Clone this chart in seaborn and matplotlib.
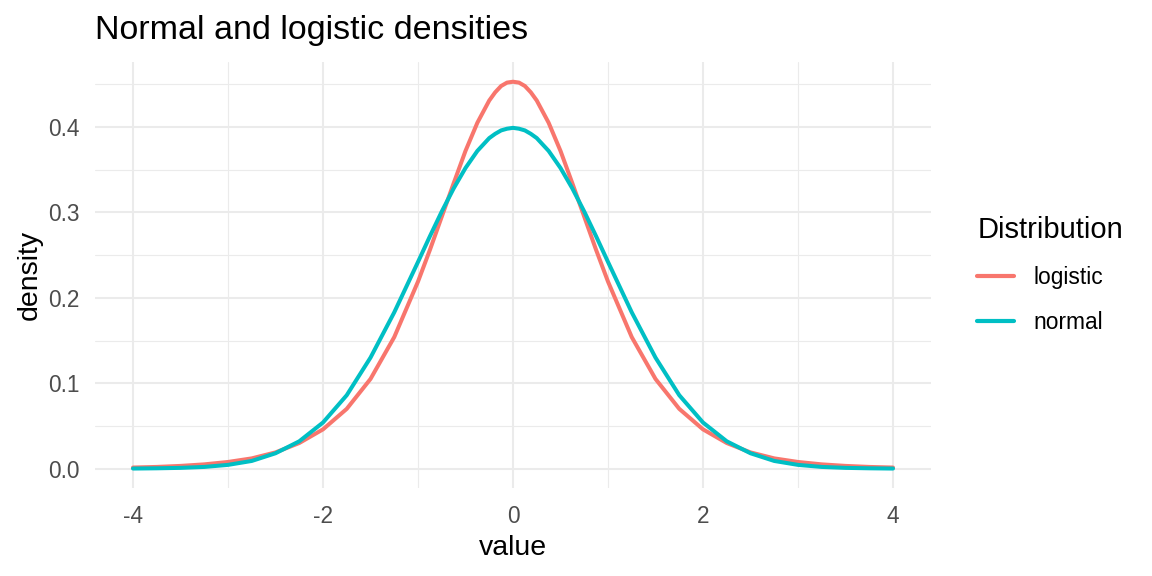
import matplotlib
matplotlib.use("Agg")
import matplotlib.pyplot as plt
import seaborn as sns
import pandas as pd
from matplotlib.ticker import MultipleLocator, FuncFormatter

x_values = [-4, -3.75, -3.5, -3.25, -3, -2.75, -2.5, -2.25, -2, -1.75, -1.5, -1.25,
            -1, -0.875, -0.75, -0.625, -0.5, -0.375, -0.25, -0.1875, -0.125, -0.0625, 0,
            0.0625, 0.125, 0.1875, 0.25, 0.375, 0.5, 0.625, 0.75, 0.875, 1,
            1.25, 1.5, 1.75, 2, 2.25, 2.5, 2.75, 3, 3.25, 3.5, 3.75, 4]
normal_density = [0.0001, 0.0004, 0.0009, 0.002, 0.0044, 0.009, 0.018, 0.032, 0.054, 0.086, 0.130, 0.183,
                  0.242, 0.272, 0.301, 0.328, 0.352, 0.372, 0.387, 0.392, 0.396, 0.398, 0.399,
                  0.398, 0.396, 0.392, 0.387, 0.372, 0.352, 0.328, 0.301, 0.272, 0.242,
                  0.183, 0.130, 0.086, 0.054, 0.032, 0.018, 0.009, 0.0044, 0.002, 0.0009, 0.0004, 0.0001]
logistic_density = [0.0013, 0.0020, 0.0032, 0.0050, 0.0078, 0.012, 0.019, 0.030, 0.046, 0.070, 0.105, 0.154,
                    0.219, 0.256, 0.295, 0.334, 0.372, 0.405, 0.431, 0.4406, 0.448, 0.452, 0.453,
                    0.452, 0.448, 0.4406, 0.431, 0.405, 0.372, 0.334, 0.295, 0.256, 0.219,
                    0.154, 0.105, 0.070, 0.046, 0.030, 0.019, 0.012, 0.0078, 0.0050, 0.0032, 0.0020, 0.0013]
series_names = ["logistic", "normal"]
series_colors = ["#F8766D", "#00BFC4"]

df = pd.concat([
    pd.DataFrame({"value": x_values, "density": logistic_density, "Distribution": "logistic"}),
    pd.DataFrame({"value": x_values, "density": normal_density, "Distribution": "normal"}),
])

sns.set_theme(style="white")
plt.rcParams["font.family"] = ["Liberation Sans", "DejaVu Sans"]
plt.rcParams["text.color"] = "black"

W, H = 1152, 576
fig = plt.figure(figsize=(W / 100, H / 100), dpi=100)
ax = fig.add_axes([95 / W, 1 - 488 / H, (931 - 95) / W, (488 - 62) / H])

sns.lineplot(data=df, x="value", y="density", hue="Distribution",
             hue_order=series_names, palette=series_colors, linewidth=2.9,
             ax=ax, legend=True, sort=False)

ax.set_xlim(-4.4, 4.4)
ax.set_ylim(-0.02267, 0.4761)
ax.xaxis.set_major_locator(MultipleLocator(2))
ax.xaxis.set_minor_locator(MultipleLocator(1))
ax.yaxis.set_major_locator(MultipleLocator(0.1))
ax.yaxis.set_minor_locator(MultipleLocator(0.05))
ax.xaxis.set_major_formatter(FuncFormatter(lambda v, p: f"{v:.0f}"))
ax.yaxis.set_major_formatter(FuncFormatter(lambda v, p: f"{v:.1f}"))
ax.grid(True, which="major", color="#EBEBEB", linewidth=1.5)
ax.grid(True, which="minor", color="#EBEBEB", linewidth=0.8)
ax.set_axisbelow(True)
for s in ax.spines.values():
    s.set_visible(False)
ax.tick_params(axis="both", which="both", length=0, labelsize=16.3, labelcolor="#4D4D4D")
ax.tick_params(axis="y", pad=11)
ax.tick_params(axis="x", pad=12)

ax.set_xlabel("value", fontsize=20.5, color="black")
ax.set_ylabel("density", fontsize=20.5, color="black")
ax.xaxis.set_label_coords(0.5, (H - 535 - 88) / 426)
ax.yaxis.set_label_coords((43 - 95) / 836, 0.5)
fig.text(95 / W, 1 - 30 / H, "Normal and logistic densities", fontsize=24.5,
         ha="left", va="center", color="black")

handles, labels = ax.get_legend_handles_labels()
ax.get_legend().remove()
leg = fig.legend(handles, labels, title="Distribution", loc="upper left",
                 bbox_to_anchor=(966 / W, 1 - 205 / H), frameon=False, borderpad=0,
                 fontsize=16.4, title_fontsize=21, handlelength=1.62,
                 labelspacing=0.95, handletextpad=0.83)
leg._legend_box.align = "left"
leg.get_title().set_color("black")
for t in leg.get_texts():
    t.set_color("black")
for h in leg.get_lines():
    h.set_linewidth(3.0)

fig.savefig("out.png", dpi=100)
